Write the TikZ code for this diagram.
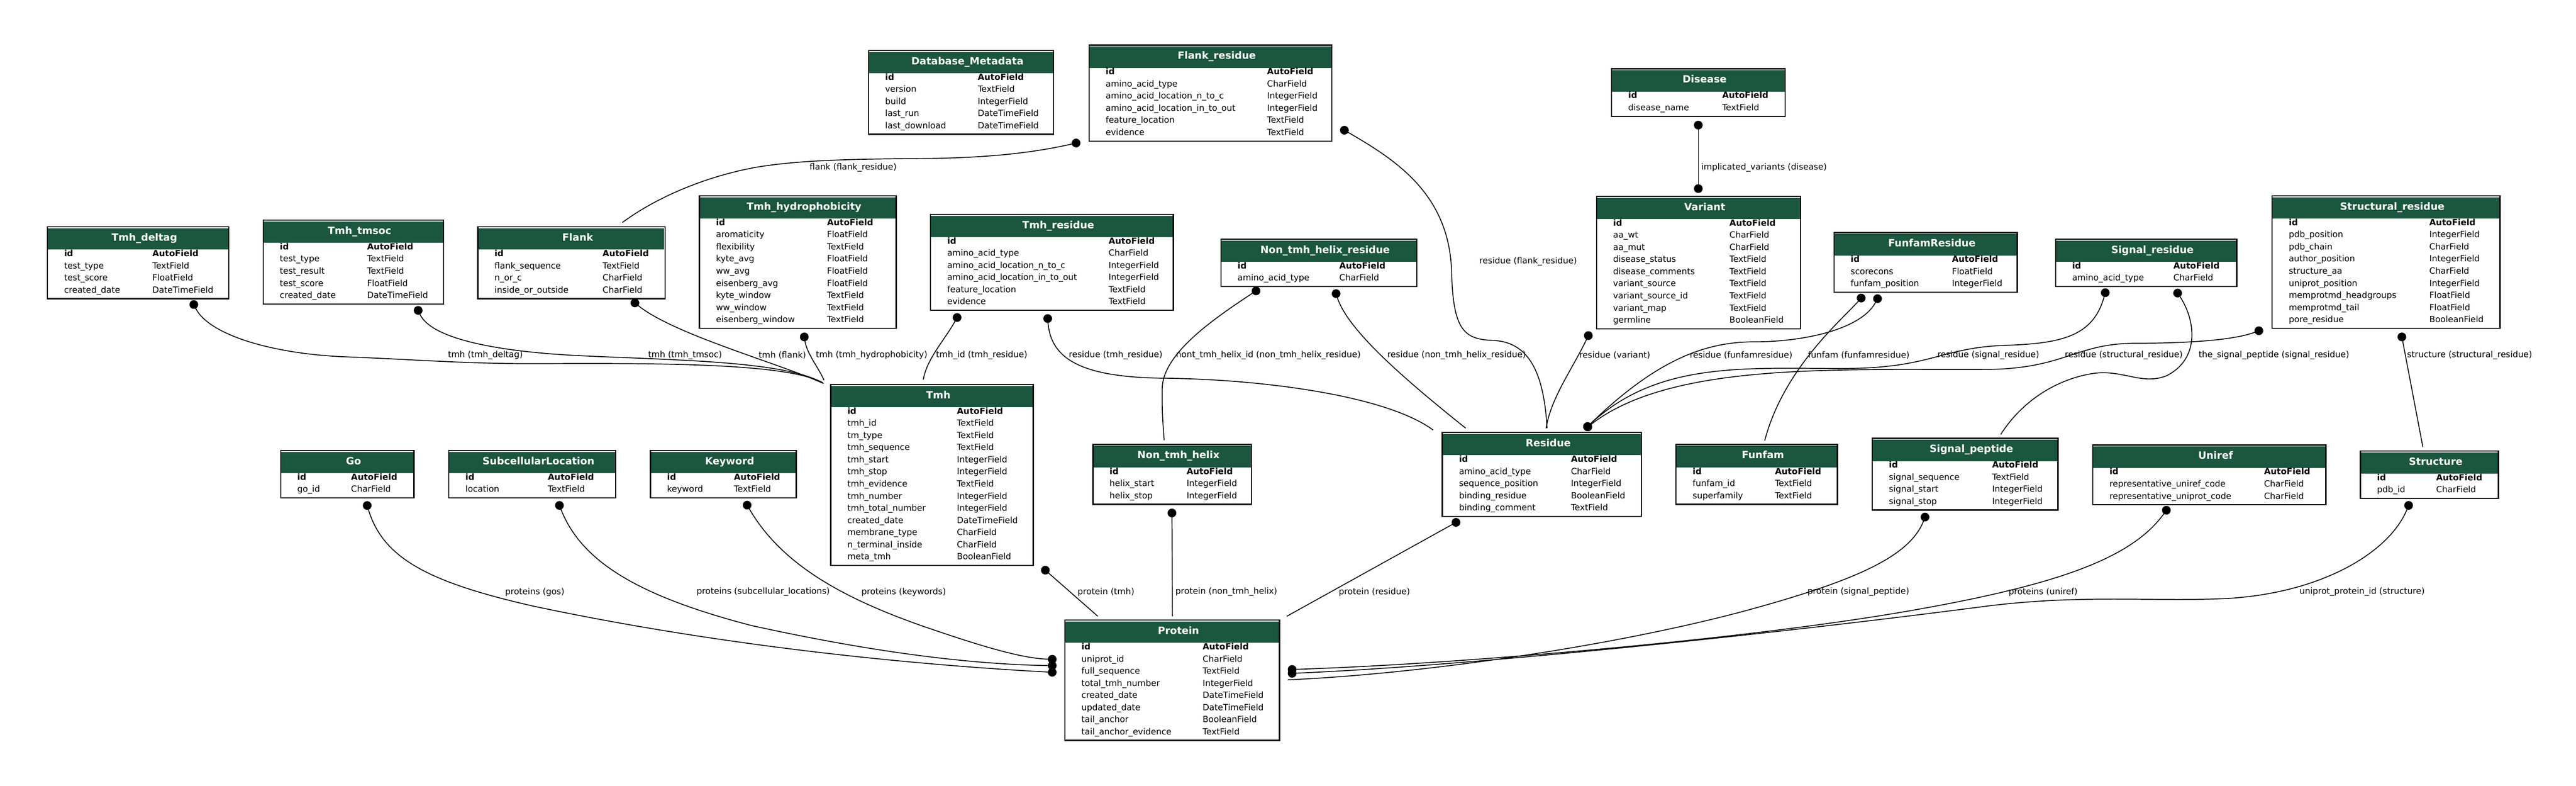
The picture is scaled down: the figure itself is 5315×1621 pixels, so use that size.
\documentclass[tikz,border=0pt]{standalone}
\usepackage{fontspec}
\setmainfont{DejaVu Sans}
\usetikzlibrary{arrows.meta,calc}
\definecolor{headgreen}{HTML}{1B563F}

% one model table: name, left, top, width, type column, rows, title, fields
\newcommand{\dbtable}[8]{%
    \node [tablebox, minimum width={#4*0.5pt}, minimum height={(48+25*#6)*0.5pt}] (#1) at (#2,#3) {};
    \fill [headgreen] ($(#1.north west)+(1.3,3)$) rectangle ($(#1.north east)+(-1.3,47)$);
    \node [tabletitle] (#1-title) at ($(#1.north)+(13,29)$) {#7};
    \foreach \fieldname/\fieldtype [count=\fieldnum] in {#8} {
        \node [fieldtext] (#1-name-\fieldnum) at ($(#1.north west)+(34,36+25*\fieldnum)$)
            {\ifnum\fieldnum=1 \bfseries\fi\fieldname};
        \node [fieldtext] (#1-type-\fieldnum) at ($(#1.north west)+(#5,36+25*\fieldnum)$)
            {\ifnum\fieldnum=1 \bfseries\fi\fieldtype};
    }
}

\begin{document}
\begin{tikzpicture}[x=0.5pt, y=-0.5pt]
    \tikzstyle{tablebox}=[draw, rectangle, line width=1.25pt, inner sep=0pt, outer sep=0pt, anchor=north west]
    \tikzstyle{tabletitle}=[anchor=base, inner sep=0pt, text=white, font=\fontsize{10.35}{12}\selectfont\bfseries]
    \tikzstyle{fieldtext}=[anchor=base west, inner sep=0pt, font=\fontsize{8.8}{10}\selectfont]
    \tikzstyle{rellabel}=[anchor=west, inner sep=0pt, font=\fontsize{8.8}{10}\selectfont]
    \tikzstyle{rel}=[line width=0.9pt]
    \tikzstyle{fk}=[rel, {Circle[length=9pt]}-]
    \tikzstyle{mm}=[rel, {Circle[length=9pt]}-{Circle[length=9pt]}]

    \fill [white] (0,0) rectangle (5315,1621);
    \useasboundingbox (0,0) rectangle (5315,1621);

    % Draw the tables
    \dbtable{tmhdeltag}{98}{468}{374}{216}{4}{Tmh\_deltag}{id/AutoField, test\_type/TextField, test\_score/FloatField, created\_date/DateTimeField}
    \dbtable{tmhtmsoc}{543}{454}{372}{214}{5}{Tmh\_tmsoc}{id/AutoField, test\_type/TextField, test\_result/TextField, test\_score/FloatField, created\_date/DateTimeField}
    \dbtable{flank}{986}{468}{386}{257}{4}{Flank}{id/AutoField, flank\_sequence/TextField, n\_or\_c/CharField, inside\_or\_outside/CharField}
    \dbtable{dbmeta}{1792}{104}{382}{225}{5}{Database\_Metadata}{id/AutoField, version/TextField, build/IntegerField, last\_run/DateTimeField, last\_download/DateTimeField}
    \dbtable{flankres}{2247}{93}{501}{367}{6}{Flank\_residue}{id/AutoField, amino\_acid\_type/CharField, amino\_acid\_location\_n\_to\_c/IntegerField, amino\_acid\_location\_in\_to\_out/IntegerField, feature\_location/TextField, evidence/TextField}
    \dbtable{tmhhydro}{1443}{404}{406}{263}{9}{Tmh\_hydrophobicity}{id/AutoField, aromaticity/FloatField, flexibility/TextField, kyte\_avg/FloatField, ww\_avg/FloatField, eisenberg\_avg/FloatField, kyte\_window/TextField, ww\_window/TextField, eisenberg\_window/TextField}
    \dbtable{tmhres}{1920}{442}{501}{367}{6}{Tmh\_residue}{id/AutoField, amino\_acid\_type/CharField, amino\_acid\_location\_n\_to\_c/IntegerField, amino\_acid\_location\_in\_to\_out/IntegerField, feature\_location/TextField, evidence/TextField}
    \dbtable{tmh}{1714}{793}{418}{260}{13}{Tmh}{id/AutoField, tmh\_id/TextField, tm\_type/TextField, tmh\_sequence/TextField, tmh\_start/IntegerField, tmh\_stop/IntegerField, tmh\_evidence/TextField, tmh\_number/IntegerField, tmh\_total\_number/IntegerField, created\_date/DateTimeField, membrane\_type/CharField, n\_terminal\_inside/CharField, meta\_tmh/BooleanField}
    \dbtable{nontmhhelix}{2255}{917}{327}{193}{3}{Non\_tmh\_helix}{id/AutoField, helix\_start/IntegerField, helix\_stop/IntegerField}
    \dbtable{nontmhhelixres}{2519}{493}{404}{244}{2}{Non\_tmh\_helix\_residue}{id/AutoField, amino\_acid\_type/CharField}
    \dbtable{variant}{3294}{405}{421}{274}{9}{Variant}{id/AutoField, aa\_wt/CharField, aa\_mut/CharField, disease\_status/TextField, disease\_comments/TextField, variant\_source/TextField, variant\_source\_id/TextField, variant\_map/TextField, germline/BooleanField}
    \dbtable{disease}{3325}{142}{358}{228}{2}{Disease}{id/AutoField, disease\_name/TextField}
    \dbtable{funfamres}{3784}{480}{378}{243}{3}{FunfamResidue}{id/AutoField, scorecons/FloatField, funfam\_position/IntegerField}
    \dbtable{signalres}{4241}{493}{374}{243}{2}{Signal\_residue}{id/AutoField, amino\_acid\_type/CharField}
    \dbtable{structres}{4688}{404}{470}{324}{9}{Structural\_residue}{id/AutoField, pdb\_position/IntegerField, pdb\_chain/CharField, author\_position/IntegerField, structure\_aa/CharField, uniprot\_position/IntegerField, memprotmd\_headgroups/FloatField, memprotmd\_tail/FloatField, pore\_residue/BooleanField}
    \dbtable{go}{579}{929}{275}{145}{2}{Go}{id/AutoField, go\_id/CharField}
    \dbtable{subcell}{926}{929}{344}{204}{2}{SubcellularLocation}{id/AutoField, location/TextField}
    \dbtable{keyword}{1342}{929}{301}{172}{2}{Keyword}{id/AutoField, keyword/TextField}
    \dbtable{protein}{2197}{1279}{443}{284}{8}{Protein}{id/AutoField, uniprot\_id/CharField, full\_sequence/TextField, total\_tmh\_number/IntegerField, created\_date/DateTimeField, updated\_date/DateTimeField, tail\_anchor/BooleanField, tail\_anchor\_evidence/TextField}
    \dbtable{residue}{2976}{892}{411}{265}{5}{Residue}{id/AutoField, amino\_acid\_type/CharField, sequence\_position/IntegerField, binding\_residue/BooleanField, binding\_comment/TextField}
    \dbtable{funfam}{3458}{917}{333}{204}{3}{Funfam}{id/AutoField, funfam\_id/TextField, superfamily/TextField}
    \dbtable{signalpep}{3863}{904}{383}{247}{4}{Signal\_peptide}{id/AutoField, signal\_sequence/TextField, signal\_start/IntegerField, signal\_stop/IntegerField}
    \dbtable{uniref}{4318}{918}{481}{353}{3}{Uniref}{id/AutoField, representative\_uniref\_code/CharField, representative\_uniprot\_code/CharField}
    \dbtable{structure}{4870}{930}{285}{156}{2}{Structure}{id/AutoField, pdb\_id/CharField}

    % Draw the relations into Tmh
    \draw[fk] ($(tmhdeltag.south west)+(298,4)$) .. controls (430,690) and (560,730) .. (714,736)
        .. controls (850,741) and (950,750) .. (1100,750) .. controls (1350,749) and (1620,748) .. ($(tmh.north west)+(-17,-4)$);
    \draw[fk] ($(tmhtmsoc.south west)+(316,5)$) .. controls (890,700) and (1030,726) .. (1205,734)
        .. controls (1400,743) and (1620,745) .. ($(tmh.north west)+(-16,-3)$);
    \draw[fk] ($(flank.south west)+(317,3)$) .. controls (1390,690) and (1610,750) .. ($(tmh.north west)+(-15,-2)$);
    \draw[fk] ($(tmhhydro.south west)+(215,9)$) .. controls (1665,730) and (1690,760) .. ($(tmh.north west)+(-14,-9)$);
    \draw[fk] ($(tmhres.south west)+(59,7)$) .. controls (1950,700) and (1912,740) .. ($(tmh.north west)+(191,-10)$);

    % Draw the relations into Residue
    \draw[fk] ($(tmhres.south west)+(241,8)$) .. controls (2168,740) and (2230,778) .. (2400,780)
        .. controls (2600,782) and (2860,815) .. ($(residue.north west)+(-19,-5)$);
    \draw[fk] ($(nontmhhelixres.south west)+(235,6)$) .. controls (2780,680) and (2895,780) .. ($(residue.north west)+(48,-9)$);
    \draw[fk] ($(flankres.south east)+(18,-27)$) .. controls (2880,330) and (2990,400) .. (2995,560)
        .. controls (2998,680) and (3020,700) .. (3080,702) .. controls (3150,705) and (3185,760) .. ($(residue.north west)+(216,-9)$);
    \draw[fk] ($(variant.south west)+(-13,6)$) .. controls (3245,760) and (3200,820) .. ($(residue.north west)+(214,-9)$);
    \draw[mm] ($(funfamres.south west)+(94,5)$) .. controls (3840,680) and (3720,705) .. (3620,705)
        .. controls (3520,705) and (3420,740) .. ($(residue.north west)+(293,-6)$);
    \draw[mm] ($(signalres.south west)+(105,4)$) .. controls (4320,690) and (4260,708) .. (4144,712)
        .. controls (4000,716) and (3990,760) .. (3800,760) .. controls (3600,760) and (3420,745) .. ($(residue.north west)+(293,-6)$);
    \draw[mm] ($(structres.south west)+(-19,2)$) .. controls (4600,705) and (4480,708) .. (4400,708)
        .. controls (4280,710) and (4260,760) .. (4100,762) .. controls (3800,764) and (3450,745) .. ($(residue.north west)+(293,-6)$);

    % Draw the other relations at the top
    \draw[fk] ($(flankres.south west)+(-18,2)$) .. controls (2120,318) and (2020,326) .. (1900,327)
        .. controls (1760,328) and (1650,330) .. (1560,345) .. controls (1450,365) and (1350,410) .. ($(flank.north west)+(298,-9)$);
    \draw[fk] ($(nontmhhelixres.south west)+(80,4)$) .. controls (2500,660) and (2400,730) .. (2398,800)
        .. controls (2397,850) and (2400,880) .. ($(nontmhhelix.north west)+(147,-9)$);
    \draw[mm] ($(disease.south west)+(179,9)$) -- ($(variant.north west)+(210,-7)$);
    \draw[fk] ($(funfamres.south west)+(62,5)$) .. controls (3800,660) and (3680,760) .. ($(funfam.north west)+(183,-8)$);
    \draw[fk] ($(signalres.south west)+(247,6)$) .. controls (4530,660) and (4540,740) .. (4470,775)
        .. controls (4420,795) and (4380,762) .. (4320,770) .. controls (4240,782) and (4170,830) .. ($(signalpep.north west)+(265,-8)$);
    \draw[fk] ($(structres.south west)+(266,9)$) -- ($(structure.north west)+(129,-8)$);

    % Draw the relations into Protein
    \draw[fk] ($(tmh.south east)+(18,4)$) -- ($(protein.north west)+(68,-8)$);
    \draw[fk] ($(nontmhhelix.south west)+(163,9)$) -- ($(protein.north west)+(222,-8)$);
    \draw[fk] ($(residue.south west)+(36,8)$) -- ($(protein.north east)+(15,-8)$);
    \draw[mm] ($(go.south west)+(176,7)$) .. controls (790,1150) and (880,1200) .. (1100,1250)
        .. controls (1500,1335) and (1900,1372) .. ($(protein.north west)+(-17,108)$);
    \draw[mm] ($(subcell.south west)+(225,7)$) .. controls (1200,1160) and (1320,1230) .. (1550,1290)
        .. controls (1800,1345) and (2000,1370) .. ($(protein.north west)+(-17,94)$);
    \draw[mm] ($(keyword.south west)+(195,7)$) .. controls (1610,1160) and (1730,1230) .. (1900,1290)
        .. controls (2030,1335) and (2110,1358) .. ($(protein.north west)+(-17,81)$);
    \draw[fk] ($(signalpep.south west)+(112,6)$) .. controls (3940,1150) and (3820,1200) .. (3600,1260)
        .. controls (3300,1340) and (2900,1392) .. ($(protein.north east)+(17,123)$);
    \draw[mm] ($(uniref.south west)+(157,4)$) .. controls (4400,1150) and (4250,1205) .. (3950,1258)
        .. controls (3600,1320) and (3000,1370) .. ($(protein.north east)+(17,102)$);
    \draw[mm] ($(structure.south west)+(103,6)$) .. controls (4930,1140) and (4790,1222) .. (4600,1234)
        .. controls (4450,1242) and (4300,1225) .. (4100,1250) .. controls (3600,1315) and (3000,1375) .. ($(protein.north east)+(17,110)$);

    % Draw the relation labels
    \foreach \lx/\ly/\ltext [count=\relnum] in {
        1670/346/flank (flank\_residue),
        3052/539/residue (flank\_residue),
        3510/346/implicated\_variants (disease),
        924/733/tmh (tmh\_deltag),
        1337/733/tmh (tmh\_tmsoc),
        1565/733/tmh (flank),
        1683/733/tmh (tmh\_hydrophobicity),
        1931/733/tmh\_id (tmh\_residue),
        2205/733/residue (tmh\_residue),
        2426/733/nont\_tmh\_helix\_id (non\_tmh\_helix\_residue),
        2862/733/residue (non\_tmh\_helix\_residue),
        3258/733/residue (variant),
        3486/733/residue (funfamresidue),
        3730/733/funfam (funfamresidue),
        3997/733/residue (signal\_residue),
        4260/733/residue (structural\_residue),
        4536/733/the\_signal\_peptide (signal\_residue),
        4966/733/structure (structural\_residue),
        1042/1221/proteins (gos),
        1437/1221/proteins (subcellular\_locations),
        1777/1221/proteins (keywords),
        2223/1221/protein (tmh),
        2425/1221/protein (non\_tmh\_helix),
        2762/1221/protein (residue),
        3729/1221/protein (signal\_peptide),
        4144/1221/proteins (uniref),
        4744/1220/uniprot\_protein\_id (structure)}
    \node [rellabel] (label-\relnum) at (\lx,\ly) {\ltext};

\end{tikzpicture}
\end{document}
